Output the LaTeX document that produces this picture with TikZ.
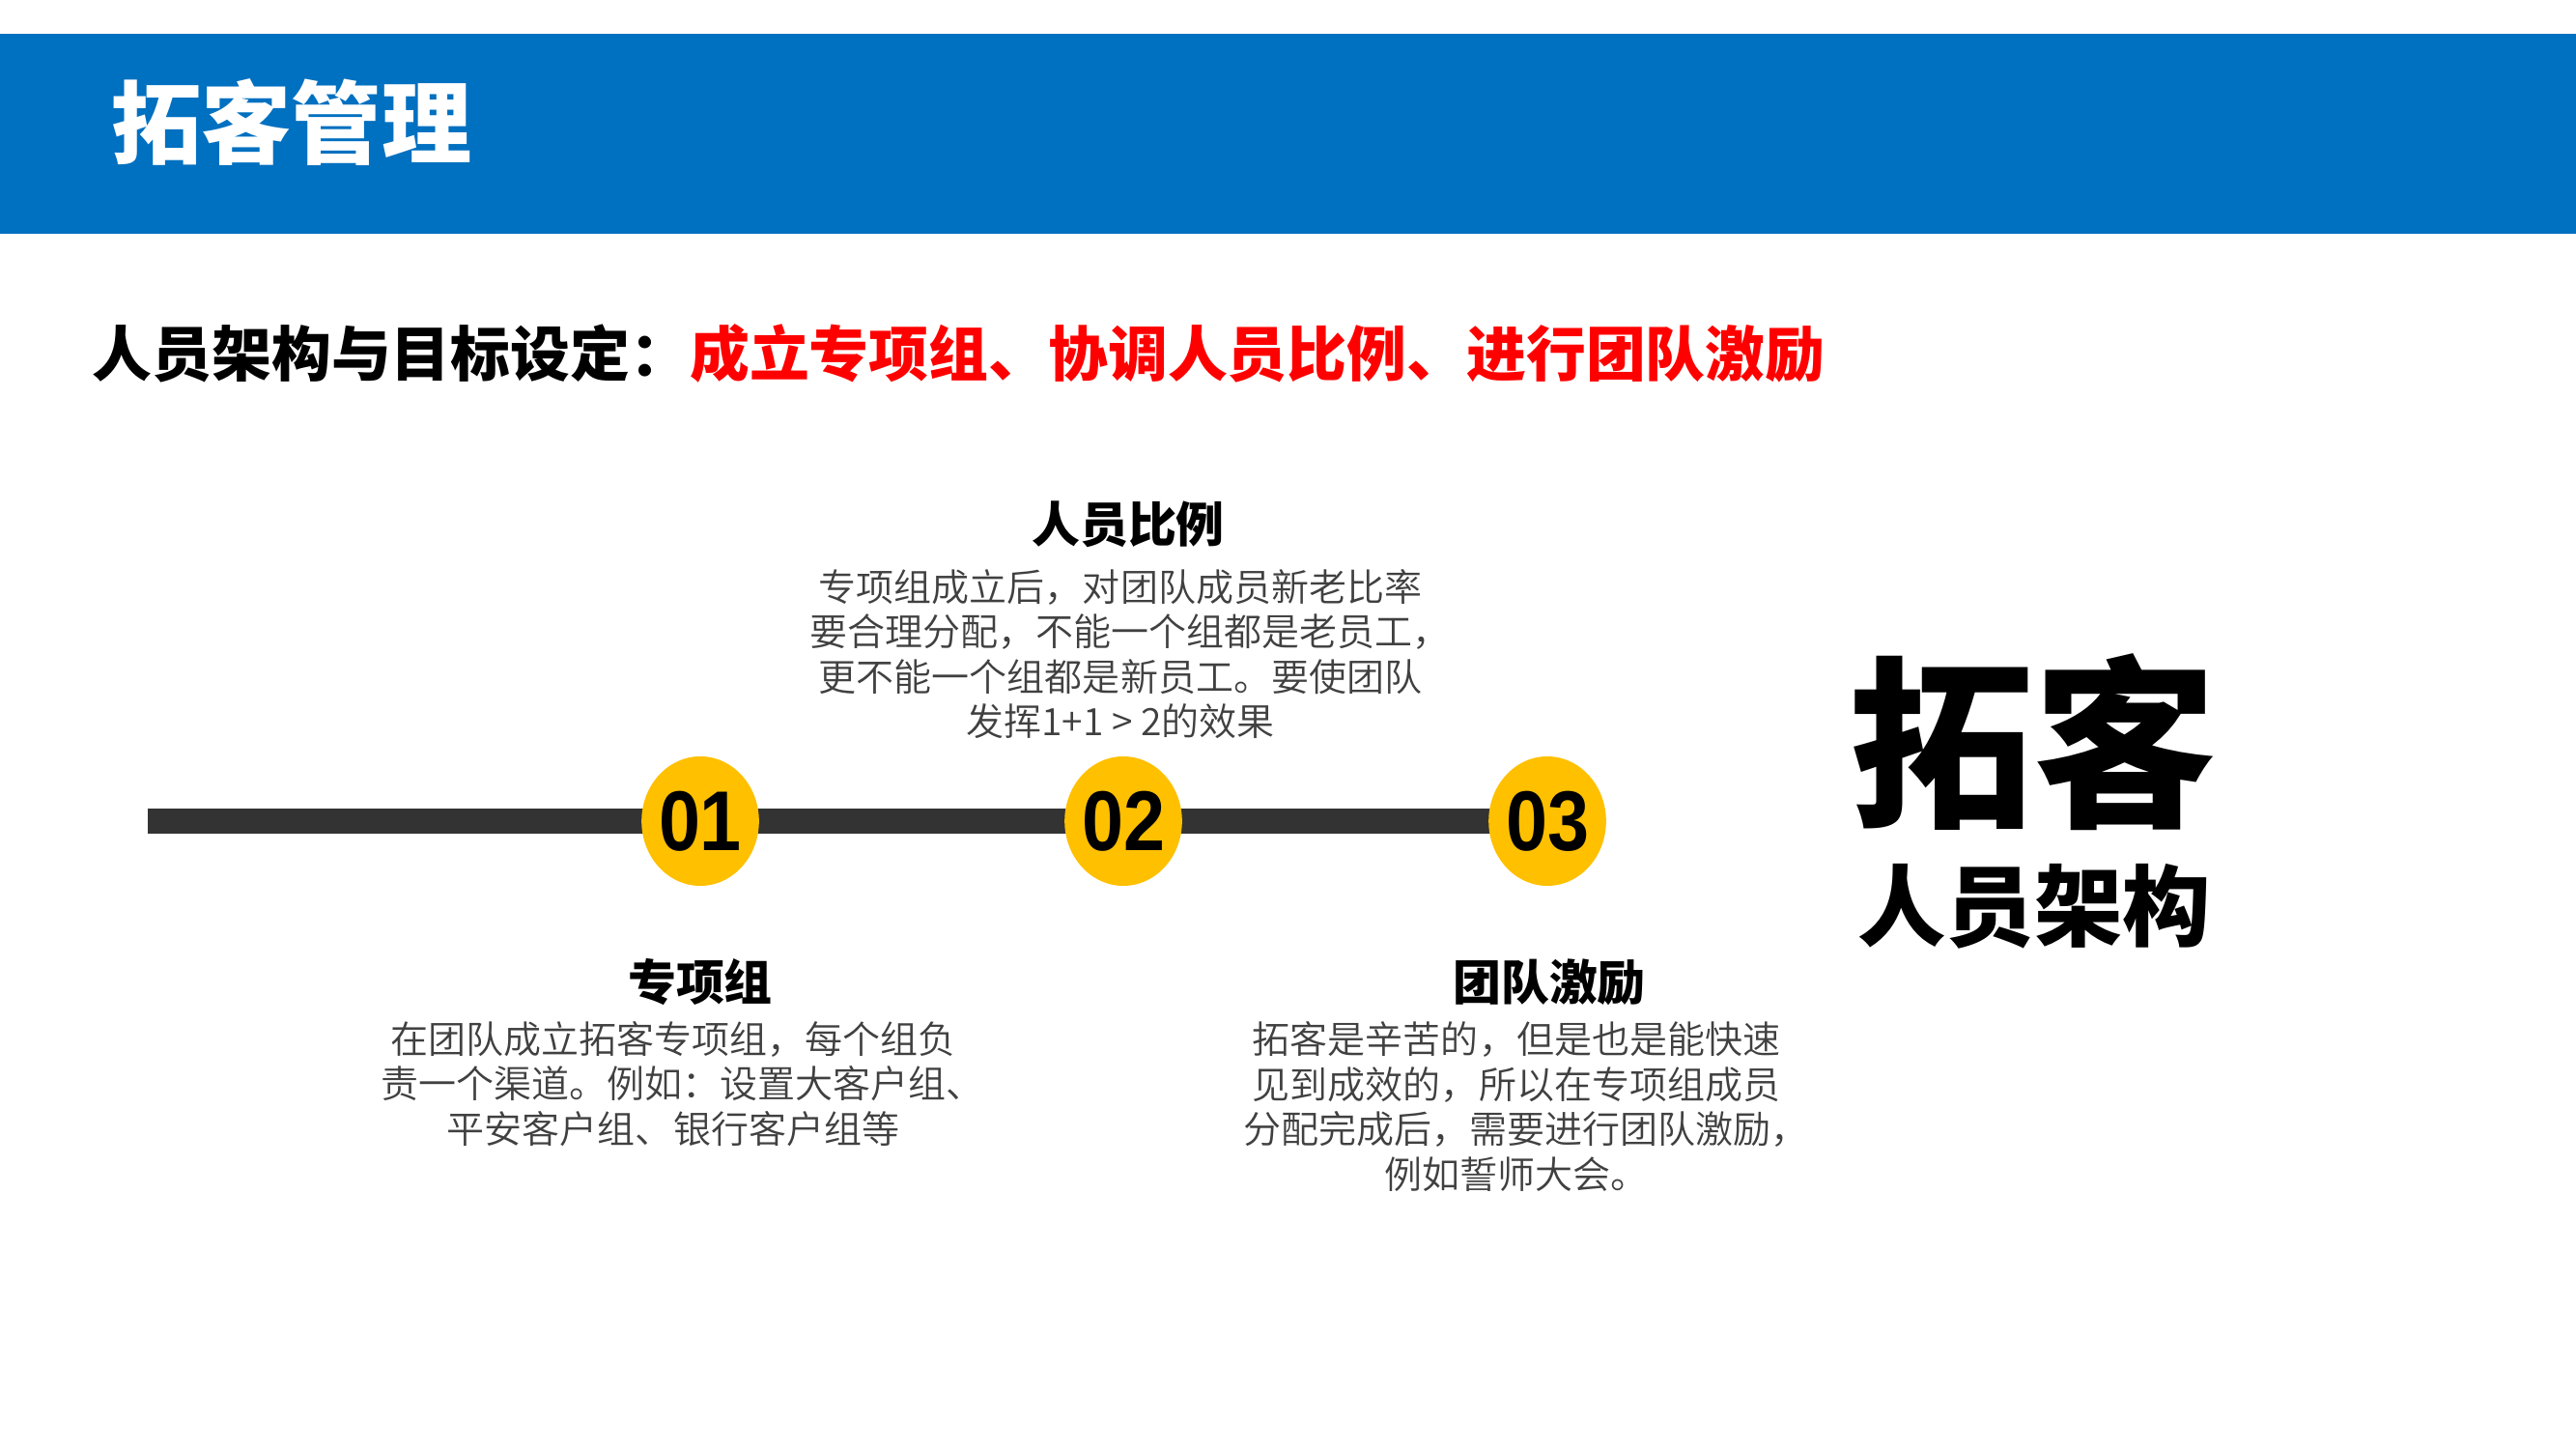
\documentclass[tikz,border=0pt]{standalone}
\usepackage{fontspec}
\setmainfont{Noto Sans CJK SC}
\newfontfamily\bodyfont{Noto Sans CJK SC DemiLight}
\newfontfamily\numfont[FakeStretch=0.88]{Liberation Sans}
\usepackage{tikz}
\usetikzlibrary{shapes.geometric,positioning,backgrounds}
\definecolor{bandblue}{HTML}{0070C0}
\definecolor{dotyellow}{HTML}{FFC000}
\definecolor{bargray}{HTML}{333333}
\definecolor{bodygray}{HTML}{404040}
\definecolor{keyred}{HTML}{FF0000}
% trailing punctuation set half width
\newcommand{\halfpunct}[1]{\makebox[0.5em][l]{#1}}

\begin{document}
\begin{tikzpicture}[
    dot/.style={ellipse, fill=dotyellow, minimum width=1.17cm, minimum height=1.34cm, inner sep=0pt, font=\numfont\bfseries\fontsize{25}{25}\selectfont},
    head/.style={font=\bfseries\fontsize{14.2}{16}\selectfont, inner sep=0pt},
    body/.style={align=center, text=bodygray, font=\bodyfont\fontsize{11.1}{13.2}\selectfont, inner sep=0pt},
    bar/.style={line width=0.26cm, bargray}
]
\useasboundingbox (0,0) rectangle (26.67,15);
% title band
\fill[bandblue] (0,12.58) rectangle (26.67,14.65);
\node[anchor=west, text=white, font=\bfseries\fontsize{26.5}{28}\selectfont, inner sep=0pt] (title) at (1.15,13.73) {拓客管理};
\node[anchor=west, font=\bfseries\fontsize{17.6}{20}\selectfont, inner sep=0pt] (sub) at (0.95,11.34) {人员架构与目标设定：\textcolor{keyred}{成立专项组、协调人员比例、进行团队激励}};

% timeline
\coordinate (start) at (1.53,6.5);
\node[dot] (d1) at (7.25,6.5) {01};
\node[dot] (d2) at (11.63,6.5) {02};
\node[dot] (d3) at (16.02,6.5) {\raisebox{-0.05cm}{03}};
\begin{pgfonlayer}{background}
\draw[bar] (start) -- (d3.center);
\end{pgfonlayer}

% steps
\node[head] (h2) at (11.68,9.57) {人员比例};
\node[body] (b2) at (11.6,8.23) {专项组成立后，对团队成员新老比率\\要合理分配，不能一个组都是老员工\halfpunct{，}\\更不能一个组都是新员工。要使团队\\发挥1+1 > 2的效果};
\node[head] (h1) at (7.25,4.83) {专项组};
\node[body] (b1) at (6.97,3.78) {在团队成立拓客专项组，每个组负\\责一个渠道。例如：设置大客户组\halfpunct{、}\\平安客户组、银行客户组等};
\node[head] (h3) at (16.04,4.83) {团队激励};
\node[body] (b3) at (15.7,3.545) {拓客是辛苦的，但是也是能快速\\见到成效的，所以在专项组成员\\分配完成后，需要进行团队激励\halfpunct{，}\\例如誓师大会。};

% right label
\node[font=\bfseries\fontsize{54}{56}\selectfont, inner sep=0pt] (big) at (21.05,7.32) {拓客};
\node[font=\bfseries\fontsize{26}{28}\selectfont, inner sep=0pt] (small) at (21.06,5.62) {人员架构};
\end{tikzpicture}
\end{document}
